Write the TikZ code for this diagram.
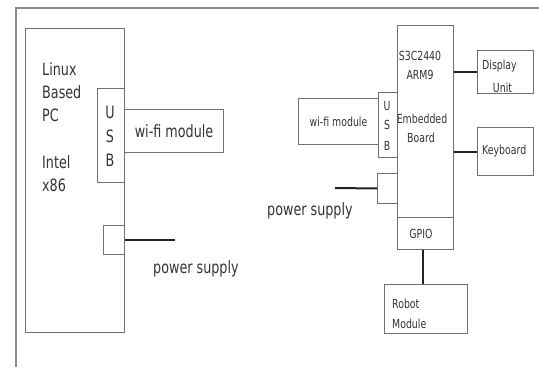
\documentclass[tikz,border=0pt]{standalone}
\usepackage{fontspec}
\setmainfont{DejaVu Sans}[FakeStretch=0.75]
\definecolor{boxgray}{HTML}{707070}
\definecolor{framegray}{HTML}{8A8A8A}
\definecolor{connc}{HTML}{222222}
\definecolor{txt}{HTML}{333333}
\begin{document}
\begin{tikzpicture}[x=1pt,y=-1pt,
  box/.style={draw=boxgray, line width=1pt, inner sep=0pt, anchor=north west},
  conn/.style={draw=connc, line width=2pt},
  frameline/.style={draw=framegray, line width=1.2pt},
  big/.style={font=\fontsize{17}{23}\selectfont, inner sep=0pt, text=txt},
  small/.style={font=\fontsize{12.5}{16}\selectfont, inner sep=0pt, text=txt}]
\useasboundingbox (0,0) rectangle (539,367);
\draw[frameline] (16,367) -- (16,8) -- (539,8);
% left side
\node[box, minimum width=99, minimum height=304] (pc) at (25,28) {};
\node[box, minimum width=27, minimum height=94] (usbL) at (97,88) {};
\node[box, minimum width=99, minimum height=43] (wifiL) at (124,109) {};
\node[box, minimum width=21, minimum height=29] (pwrL) at (103,225) {};
\node[big, anchor=base west] (t1) at (42,75) {Linux};
\node[big, anchor=base west] (t2) at (42,98) {Based};
\node[big, anchor=base west] (t3) at (42,121) {PC};
\node[big, anchor=base west] (t4) at (42,168) {Intel};
\node[big, anchor=base west] (t5) at (42,191) {x86};
\node[big, anchor=base] (u1) at (110,118) {U};
\node[big, anchor=base] (u2) at (110,142) {S};
\node[big, anchor=base] (u3) at (110,166) {B};
\node[big] (wtL) at (wifiL.center) {wi-fi module};
\node[big, anchor=base west] (psL) at (153,273) {power supply};
\coordinate (pwrLend) at (175,240);
\draw[conn] (pwrL.east) -- (pwrLend);
% right side
\node[box, minimum width=56, minimum height=192] (board) at (397,25) {};
\node[box, minimum width=56, minimum height=32] (gpio) at (397,217) {};
\node[box, minimum width=19, minimum height=65] (usbR) at (378,92) {};
\node[box, minimum width=80, minimum height=46] (wifiR) at (298,98) {};
\node[box, minimum width=20, minimum height=30] (pwrR) at (377,173) {};
\node[box, minimum width=56, minimum height=43] (disp) at (477,50) {};
\node[box, minimum width=56, minimum height=48] (kbd) at (477,127) {};
\node[box, minimum width=83, minimum height=49] (robot) at (384,284) {};
\node[small, anchor=base] (b1) at (420,60) {S3C2440};
\node[small, anchor=base] (b2) at (420,79) {ARM9};
\node[small, anchor=base] (b3) at (422,123) {Embedded};
\node[small, anchor=base] (b4) at (421,142) {Board};
\node[small, anchor=base] (g1) at (421,238) {GPIO};
\node[small, anchor=base] (r1) at (387,110) {U};
\node[small, anchor=base] (r2) at (387,129) {S};
\node[small, anchor=base] (r3) at (387,150) {B};
\node[small] (wtR) at (wifiR.center) {wi-fi module};
\node[small, anchor=base west] (d1) at (482,69) {Display};
\node[small, anchor=base] (d2) at (502.5,92) {Unit};
\node[small, anchor=base west] (k1) at (482,154) {Keyboard};
\node[small, anchor=base west] (m1) at (392,308) {Robot};
\node[small, anchor=base west] (m2) at (392,328) {Module};
\node[big, anchor=base west] (psR) at (267,215) {power supply};
\coordinate (pwrRend) at (335,188);
\draw[conn] (pwrR.west) -- (pwrRend);
\draw[conn] (board.east |- disp.west) -- (disp.west);
\draw[conn] (board.east |- kbd.west) -- (kbd.west);
\draw[conn] ([xshift=-3pt]gpio.south) -- ([xshift=-3pt]gpio.south |- robot.north);
\end{tikzpicture}
\end{document}
